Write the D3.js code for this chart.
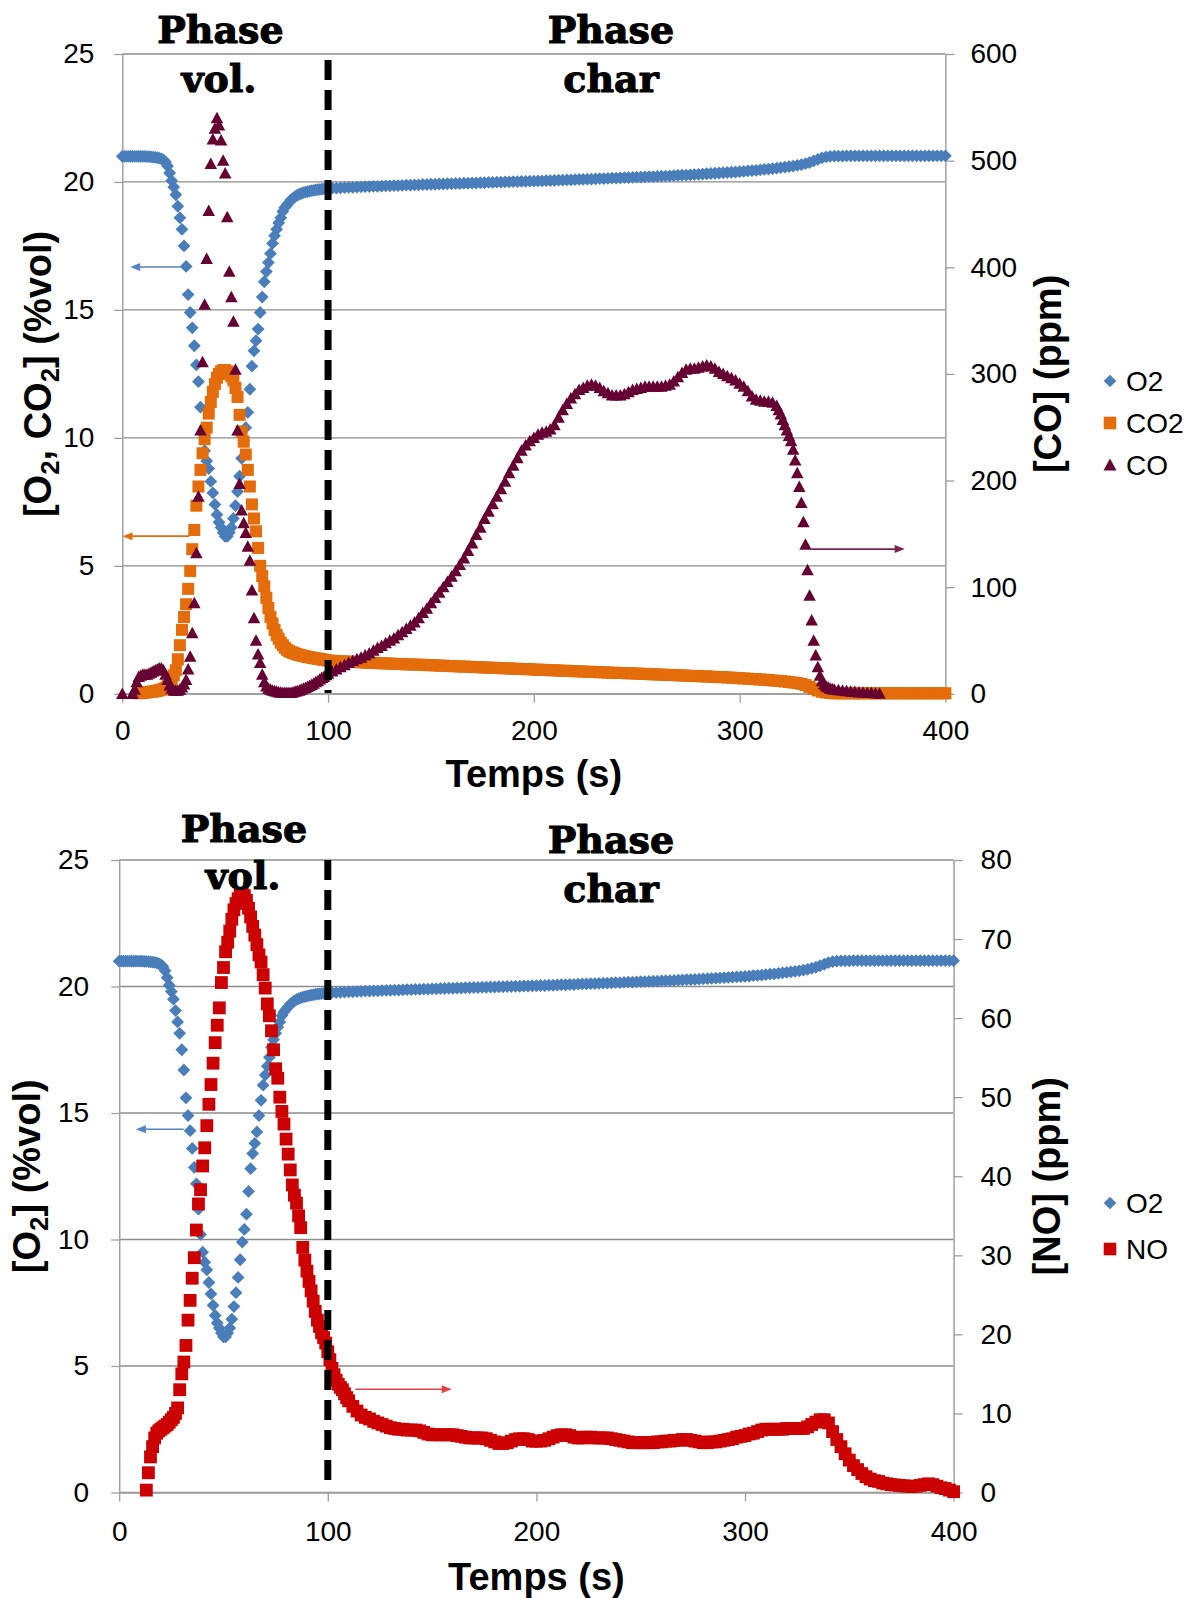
<!DOCTYPE html>
<html><head><meta charset="utf-8">
<script src="https://cdn.jsdelivr.net/npm/d3@7"></script>
<style>body{margin:0;background:#fff}svg{display:block}</style>
</head><body>
<svg id="c" width="1195" height="1598"></svg>
<script>
// ---------------- DATA ----------------
const xTicks = [0, 100, 200, 300, 400];
const leftTicks = [0, 5, 10, 15, 20, 25];
const coTicks = [0, 100, 200, 300, 400, 500, 600];
const noTicks = [0, 10, 20, 30, 40, 50, 60, 70, 80];

// sampling times (s)
const timeFast = [0,1,2,3,4,5,6,7,8,9,10,11,12,13,14,15,16,17,18,19,20,21,22,23,24,25,26,27,28,29,30,31,32,33,34,35,36,37,38,39,40,41,42,43,44,45,46,47,48,49,50,51,52,53,54,55,56,57,58,59,60,61,62,63,64,65,66,67,68,69,70,71,72,73,74,75,76,77,78,79,80,81,82,83,84,85,86,87,88,89,90,91,92,93,94,95,96,97,98,99,100];
const timeSlow = [102,104,106,108,110,112,114,116,118,120,122,124,126,128,130,132,134,136,138,140,142,144,146,148,150,152,154,156,158,160,162,164,166,168,170,172,174,176,178,180,182,184,186,188,190,192,194,196,198,200,202,204,206,208,210,212,214,216,218,220,222,224,226,228,230,232,234,236,238,240,242,244,246,248,250,252,254,256,258,260,262,264,266,268,270,272,274,276,278,280,282,284,286,288,290,292,294,296,298,300,302,304,306,308,310,312,314,316,318,320,322,324,326,328,330,332,334,336,338,340,342,344,346,348,350,352,354,356,358,360,362,364,366,368,370,372,374,376,378,380,382,384,386,388,390,392,394,396,398,400];
const timeCOdrop = [319,320,321,322,323,324,325,326,327,328,329,330,331,332,333,334,335,336,337,338,339,340,341,342,343,344,345];
const timeCOtail = [346,348,350,352,354,356,358,360,362,364,366,368];
const timeNOmid = [101,102,103,104,105,106,107,108,109,110];

// O2 (%vol)
const o2Fast = [21.0,21.0,21.0,21.0,21.0,21.0,21.0,21.0,21.0,21.0,21.0,21.0,20.99,20.99,20.98,20.97,20.96,20.95,20.93,20.9,20.86,20.78,20.62,20.35,20.05,19.8,19.5,19.05,18.6,18.15,17.5,16.7,15.6,14.9,14.3,13.6,12.85,12.2,11.2,10.2,9.5,9.1,8.8,8.3,7.85,7.4,7.0,6.7,6.5,6.3,6.15,6.15,6.3,6.5,6.85,7.35,7.9,8.5,9.2,9.9,10.4,11.0,11.9,12.8,13.4,13.8,14.25,14.9,15.5,16.1,16.5,16.85,17.2,17.6,17.9,18.15,18.4,18.6,18.85,19.0,19.1,19.2,19.3,19.37,19.43,19.48,19.52,19.55,19.58,19.6,19.62,19.64,19.66,19.67,19.69,19.7,19.71,19.72,19.73,19.74,19.75];
const o2Slow = [19.76,19.76,19.77,19.78,19.79,19.79,19.8,19.81,19.82,19.82,
19.83,19.83,19.84,19.85,19.85,19.86,19.86,19.87,19.88,19.88,
19.89,19.89,19.9,19.9,19.91,19.91,19.92,19.92,19.93,19.93,
19.94,19.94,19.95,19.95,19.96,19.96,19.97,19.97,19.98,19.98,
19.99,19.99,20.0,20.0,20.01,20.01,20.02,20.02,20.03,20.03,
20.04,20.04,20.05,20.05,20.06,20.07,20.07,20.08,20.08,20.09,
20.1,20.1,20.11,20.11,20.12,20.13,20.13,20.14,20.15,20.15,
20.16,20.17,20.17,20.18,20.19,20.19,20.2,20.21,20.21,20.22,
20.23,20.23,20.24,20.25,20.26,20.27,20.27,20.28,20.29,20.3,
20.31,20.32,20.33,20.34,20.35,20.36,20.37,20.38,20.39,20.4,
20.41,20.43,20.44,20.45,20.47,20.49,20.5,20.52,20.54,20.56,
20.58,20.6,20.62,20.65,20.68,20.72,20.76,20.82,20.88,20.94,
20.98,21.0,21.01,21.01,21.01,21.02,21.02,21.02,21.02,21.02,
21.02,21.02,21.02,21.02,21.02,21.02,21.02,21.02,21.02,21.02,
21.02,21.02,21.02,21.02,21.02,21.02,21.02,21.02,21.02,21.02];

// CO2 (%vol), fast part starts at t = 8 s
const co2Fast = [0.02,0.03,0.04,0.05,0.06,0.07,0.08,0.09,0.1,0.12,0.14,0.16,0.19,0.23,0.3,0.42,0.56,0.72,0.92,1.35,1.9,2.5,3.0,3.5,4.1,4.8,5.65,6.4,7.35,8.1,8.75,9.4,9.95,10.4,10.95,11.4,11.8,12.1,12.35,12.5,12.6,12.65,12.65,12.6,12.5,12.4,12.25,11.95,11.6,10.9,10.25,9.85,9.35,8.75,8.1,7.4,6.85,6.35,5.7,5.0,4.6,4.2,3.75,3.35,3.0,2.75,2.5,2.3,2.15,2.0,1.9,1.8,1.72,1.67,1.63,1.6,1.57,1.54,1.52,1.5,1.48,1.46,1.44,1.43,1.41,1.4,1.38,1.37,1.36,1.34,1.33,1.32,1.3];
const co2Slow = [1.29,1.28,1.27,1.26,1.26,1.25,1.24,1.23,1.22,1.21,
1.21,1.2,1.19,1.19,1.18,1.17,1.17,1.16,1.15,1.15,
1.14,1.14,1.13,1.12,1.12,1.11,1.1,1.1,1.09,1.08,
1.08,1.07,1.06,1.06,1.05,1.04,1.04,1.03,1.02,1.02,
1.01,1.0,1.0,0.99,0.98,0.98,0.97,0.96,0.96,0.95,
0.94,0.94,0.93,0.92,0.92,0.91,0.9,0.9,0.89,0.88,
0.88,0.87,0.86,0.86,0.85,0.84,0.84,0.83,0.82,0.82,
0.81,0.81,0.8,0.8,0.79,0.78,0.78,0.77,0.76,0.76,
0.75,0.74,0.74,0.73,0.72,0.72,0.71,0.7,0.7,0.69,
0.68,0.68,0.67,0.66,0.65,0.65,0.64,0.63,0.62,0.61,
0.6,0.59,0.58,0.57,0.56,0.55,0.54,0.52,0.51,0.5,
0.48,0.46,0.44,0.42,0.39,0.34,0.27,0.2,0.13,0.08,
0.05,0.03,0.02,0.02,0.02,0.02,0.02,0.02,0.02,0.02,
0.02,0.02,0.02,0.02,0.02,0.02,0.02,0.02,0.02,0.02,
0.02,0.02,0.02,0.02,0.02,0.02,0.02,0.02,0.02,0.02];

// CO (ppm): times 0, 5, 6..100, 102..318, 319..345, 346..368
const coFast = [0,0,4,11,16,17,18,18,18,19,20,21,22,23,24,24,22,18,13,8,5,3,3,3,4,6,9,13,23,35,57,85,132,185,247,311,365,408,453,497,520,530,540,533,519,500,488,447,396,372,349,304,247,197,172,160,151,138,125,97,71,50,37,29,18,11,7,5,4,3,2.5,2,1.5,1.2,1,1,1,1,1,1.5,2,2.5,3,4,5,5.5,6.5,7.5,8.5,9.5,11,12,13.5,15,16,17.5,19];
const coSlow = [21,23,25,27,29,31,32.5,34,36,38,
40.5,43,45,47.5,50,52,55,58,61,64,
67,71,76,80,85,90,95,100,105,110,
115,121,127,134,141,149,156,164,171,178,
185,192,199,207,214,221,228,233,237,240,
243,245,246,248,252,259,266,272,277,281,
285,287,289,290,289,287,284,282,280,280,
280,281,283,285,286,287,288,288,288,288,
288,289,290,293,297,301,304,305,305,306,
307,308,307,305,302,300,298,296,294,291,
288,284,279,276,275,274,274,273,270];
const coDrop = [266,262,257,252,247,242,237,229,219,207,194,179,161,140,116,92,69,50,36,25,17,12,9,7,6,5,4.5];
const coTail = [4,3.5,3,2.5,2,1.8,1.5,1.2,1,0.8,0.5,0.3];

// NO (ppm): times 13..110, 112..400
const noFast = [0.3,2.5,4.5,5.8,6.9,7.5,7.8,8.0,8.2,8.4,8.6,8.9,9.2,9.5,10.0,10.7,13.0,15.0,16.5,18.6,21.8,24.3,27.1,29.7,33.2,36.5,38.3,41.3,43.6,46.4,49.1,51.6,54.3,56.9,59.1,61.3,64.5,66.4,68.4,69.6,71.0,72.5,73.7,74.5,75.1,75.6,75.8,75.5,74.9,73.9,72.8,71.6,70.5,69.3,68.0,67.1,65.5,63.8,61.8,60.3,58.4,56.0,53.6,52.4,50.0,48.2,46.6,44.7,42.8,40.8,38.9,37.6,36.6,35.0,33.5,31.0,29.4,28.0,26.7,25.5,24.2,22.9,21.8,21.0,20.2,19.6,18.9,17.8,16.8,15.7,14.9,14.2,13.7,13.3,13.0,12.5,12.0,11.6];
const noSlow = [10.9,10.3,9.8,9.5,9.3,9.0,8.8,8.6,8.4,8.2,
8.1,8.0,8.0,7.9,7.9,7.9,7.8,7.6,7.4,7.3,
7.3,7.3,7.3,7.3,7.3,7.2,7.1,7.0,6.9,6.9,
6.9,6.9,6.8,6.6,6.4,6.2,6.2,6.3,6.5,6.7,
6.8,6.8,6.7,6.5,6.5,6.5,6.6,6.8,7.0,7.2,
7.3,7.3,7.2,7.0,6.9,6.9,7.0,7.0,6.9,6.9,
6.9,6.9,6.8,6.7,6.6,6.5,6.4,6.3,6.3,6.3,
6.3,6.3,6.3,6.4,6.4,6.5,6.5,6.6,6.6,6.7,
6.7,6.6,6.5,6.4,6.3,6.3,6.4,6.4,6.5,6.6,
6.7,6.8,7.0,7.1,7.2,7.4,7.5,7.7,7.9,8.0,
8.0,8.0,8.0,8.0,8.1,8.1,8.1,8.1,8.1,8.3,
8.6,8.9,9.2,9.2,8.8,7.7,6.7,5.8,4.9,4.1,
3.4,2.9,2.4,2.0,1.7,1.5,1.4,1.2,1.1,1.0,
0.95,0.9,0.85,0.8,0.75,0.8,0.9,1.0,1.1,1.0,
0.8,0.6,0.5,0.3,0.1];

// assembled series (time, value)
const tO2 = timeFast.concat(timeSlow), vO2 = o2Fast.concat(o2Slow);
const tCO2 = timeFast.slice(8).concat(timeSlow), vCO2 = co2Fast.concat(co2Slow);
const tCO = [0,5].concat(timeFast.slice(6), timeSlow.slice(0,109), timeCOdrop, timeCOtail);
const vCO = coFast.concat(coSlow, coDrop, coTail);
const tNO = timeFast.slice(13).concat(timeNOmid, timeSlow.slice(5));
const vNO = noFast.concat(noSlow);

// ---------------- DRAWING ----------------
const svg = d3.select('#c');
const SANS = '"Liberation Sans", Arial, sans-serif';
const SERIF = '"DejaVu Serif", serif';
const C = {o2:'#4a7ebb', co2:'#e46c0a', co:'#660033', no:'#cc0000'};

const shapes = {
  diamond: r => `M0,${-r}L${r},0L0,${r}L${-r},0Z`,
  square: h => `M${-h},${-h}H${h}V${h}H${-h}Z`,
  triangle: (w,h) => `M0,${-h*0.55}L${w/2},${h*0.45}L${-w/2},${h*0.45}Z`
};

function pts(t, v){ const n=Math.min(t.length,v.length); const a=[]; for(let i=0;i<n;i++) a.push([t[i],v[i]]); return a; }

function label(sel, parts, size){
  parts.forEach((p,i)=>{
    const ts = sel.append('tspan').text(p.t);
    if (p.sub){ ts.attr('font-size', size*0.68).attr('dy', size*0.22); }
    else if (i>0 && parts[i-1].sub){ ts.attr('dy', -size*0.22); }
  });
}

function arrow(g, x1, y1, x2, y2, color){
  const dir = Math.sign(x2-x1);
  g.append('line').attr('x1',x1).attr('y1',y1).attr('x2',x2-dir*8).attr('y2',y2)
    .attr('stroke',color).attr('stroke-width',1.6);
  g.append('path').attr('d',`M${x2},${y2}L${x2-dir*10},${y2-4}L${x2-dir*10},${y2+4}Z`).attr('fill',color);
}

function chart(cfg){
  const g = svg.append('g');
  const x = d3.scaleLinear().domain([0,400]).range([cfg.left, cfg.right]);
  const yL = d3.scaleLinear().domain([0,25]).range([cfg.bottom, cfg.top]);
  const yR = d3.scaleLinear().domain(cfg.rDomain).range([cfg.bottom, cfg.top]);

  // gridlines
  g.append('g').selectAll('line').data(leftTicks).join('line')
    .attr('x1',cfg.left).attr('x2',cfg.right).attr('y1',d=>yL(d)).attr('y2',d=>yL(d))
    .attr('stroke','#8c8c8c').attr('stroke-width',1.3);

  const styleAxis = (a)=>{
    a.selectAll('path.domain').attr('stroke','#a0a0a0').attr('stroke-width',1.5);
    a.selectAll('.tick line').attr('stroke','#a0a0a0').attr('stroke-width',1.3);
    a.selectAll('.tick text').attr('font-family',SANS).attr('font-size',28).attr('fill','#000');
  };
  const ax = g.append('g').attr('transform',`translate(${cfg.left},0)`)
    .call(d3.axisLeft(yL).tickValues(leftTicks).tickSize(8).tickSizeOuter(0).tickPadding(cfg.lPad));
  styleAxis(ax);
  const axr = g.append('g').attr('transform',`translate(${cfg.right},0)`)
    .call(d3.axisRight(yR).tickValues(cfg.rTicks).tickSize(9).tickSizeOuter(0).tickPadding(cfg.rPad));
  styleAxis(axr);
  const axb = g.append('g').attr('transform',`translate(0,${cfg.bottom})`)
    .call(d3.axisBottom(x).tickValues(xTicks).tickSize(9).tickSizeOuter(0).tickPadding(cfg.bPad));
  styleAxis(axb);
  ax.attr('font-family',SANS); axr.attr('font-family',SANS); axb.attr('font-family',SANS);

  // series
  cfg.series.forEach(s=>{
    const ys = s.axis==='L'? yL : yR;
    g.append('g').selectAll('path').data(pts(s.t, s.v)).join('path')
      .attr('d', s.shape).attr('fill', s.color)
      .attr('transform', d=>`translate(${x(d[0])},${ys(d[1])})`);
  });

  // phase separator at t = 100 s
  g.append('line').attr('x1',x(100)).attr('x2',x(100)).attr('y1',cfg.dashTop).attr('y2',cfg.dashBottom)
    .attr('stroke','#000').attr('stroke-width',7).attr('stroke-dasharray','20,10');

  // arrows
  cfg.arrows.forEach(a=>{
    const ys = a.axis==='L'? yL : yR;
    arrow(g, x(a.from), ys(a.v), x(a.to), ys(a.v), a.color);
  });

  // phase labels
  cfg.phases.forEach(p=>{
    g.append('text').attr('x',p.x).attr('y',p.y).attr('text-anchor','middle')
      .attr('font-family',SERIF).attr('font-weight','bold').attr('font-size',38).attr('fill','#000')
      .attr('stroke','#000').attr('stroke-width',1.1).attr('stroke-linejoin','round').text(p.text);
  });

  // axis titles
  g.append('text').attr('x',(cfg.left+cfg.right)/2).attr('y',cfg.xTitleY).attr('text-anchor','middle')
    .attr('font-family',SANS).attr('font-weight','bold').attr('font-size',38).text('Temps (s)');
  const lt = g.append('text').attr('transform',`translate(${cfg.lTitleX},${(cfg.top+cfg.bottom)/2}) rotate(-90)`)
    .attr('text-anchor','middle').attr('font-family',SANS).attr('font-weight','bold').attr('font-size',38);
  label(lt, cfg.lTitle, 38);
  const rt = g.append('text').attr('transform',`translate(${cfg.rTitleX},${(cfg.top+cfg.bottom)/2}) rotate(-90)`)
    .attr('text-anchor','middle').attr('font-family',SANS).attr('font-weight','bold').attr('font-size',38);
  label(rt, cfg.rTitle, 38);

  // legend
  cfg.legend.forEach(l=>{
    g.append('path').attr('d', l.shape).attr('fill', l.color).attr('transform',`translate(${cfg.legX},${l.y})`);
    g.append('text').attr('x',cfg.legX+16).attr('y',l.y+10).attr('font-family',SANS).attr('font-size',28).attr('fill','#000').text(l.name);
  });
}

// top chart: O2, CO2, CO
chart({
  left:122.3, right:945.4, top:54, bottom:693.8,
  rDomain:[0,600], rTicks:coTicks, lPad:20, rPad:16, bPad:17,
  dashTop:60, dashBottom:693,
  xTitleY:787, lTitleX:50.5, rTitleX:1061,
  lTitle:[{t:'[O'},{t:'2',sub:true},{t:', CO'},{t:'2',sub:true},{t:'] (%vol)'}],
  rTitle:[{t:'[CO] (ppm)'}],
  series:[
    {t:tO2, v:vO2, axis:'L', color:C.o2, shape:shapes.diamond(6.4)},
    {t:tCO2, v:vCO2, axis:'L', color:C.co2, shape:shapes.square(6)},
    {t:tCO, v:vCO, axis:'R', color:C.co, shape:shapes.triangle(12.5,11.5)}
  ],
  arrows:[
    {from:29, to:3.8, v:16.68, axis:'L', color:'#5585c2'},
    {from:32.6, to:0.1, v:6.16, axis:'L', color:'#e46c0a'},
    {from:334.8, to:380.2, v:135.7, axis:'R', color:'#7a2350'}
  ],
  phases:[
    {text:'Phase', x:220.5, y:43}, {text:'vol.', x:219, y:92},
    {text:'Phase', x:611, y:43}, {text:'char', x:611, y:92}
  ],
  legX:1110,
  legend:[
    {name:'O2', y:381, color:C.o2, shape:shapes.diamond(6.3)},
    {name:'CO2', y:423, color:C.co2, shape:shapes.square(6.3)},
    {name:'CO', y:465, color:C.co, shape:shapes.triangle(13,12)}
  ]
});

// bottom chart: O2, NO
chart({
  left:119.2, right:953.6, top:860, bottom:1492.5,
  rDomain:[0,80], rTicks:noTicks, lPad:22, rPad:18, bPad:20,
  dashTop:860, dashBottom:1486,
  xTitleY:1590, lTitleX:39.6, rTitleX:1059.5,
  lTitle:[{t:'[O'},{t:'2',sub:true},{t:'] (%vol)'}],
  rTitle:[{t:'[NO] (ppm)'}],
  series:[
    {t:tO2, v:vO2, axis:'L', color:C.o2, shape:shapes.diamond(6.4)},
    {t:tNO, v:vNO, axis:'R', color:C.no, shape:shapes.square(6.4)}
  ],
  arrows:[
    {from:30.9, to:8, v:14.36, axis:'L', color:'#5585c2'},
    {from:113.2, to:159.4, v:13.05, axis:'R', color:'#dd4444'}
  ],
  phases:[
    {text:'Phase', x:244, y:842}, {text:'vol.', x:243, y:889},
    {text:'Phase', x:611, y:853}, {text:'char', x:611, y:902}
  ],
  legX:1110,
  legend:[
    {name:'O2', y:1203, color:C.o2, shape:shapes.diamond(6.3)},
    {name:'NO', y:1249, color:C.no, shape:shapes.square(6.3)}
  ]
});
</script>
</body></html>
